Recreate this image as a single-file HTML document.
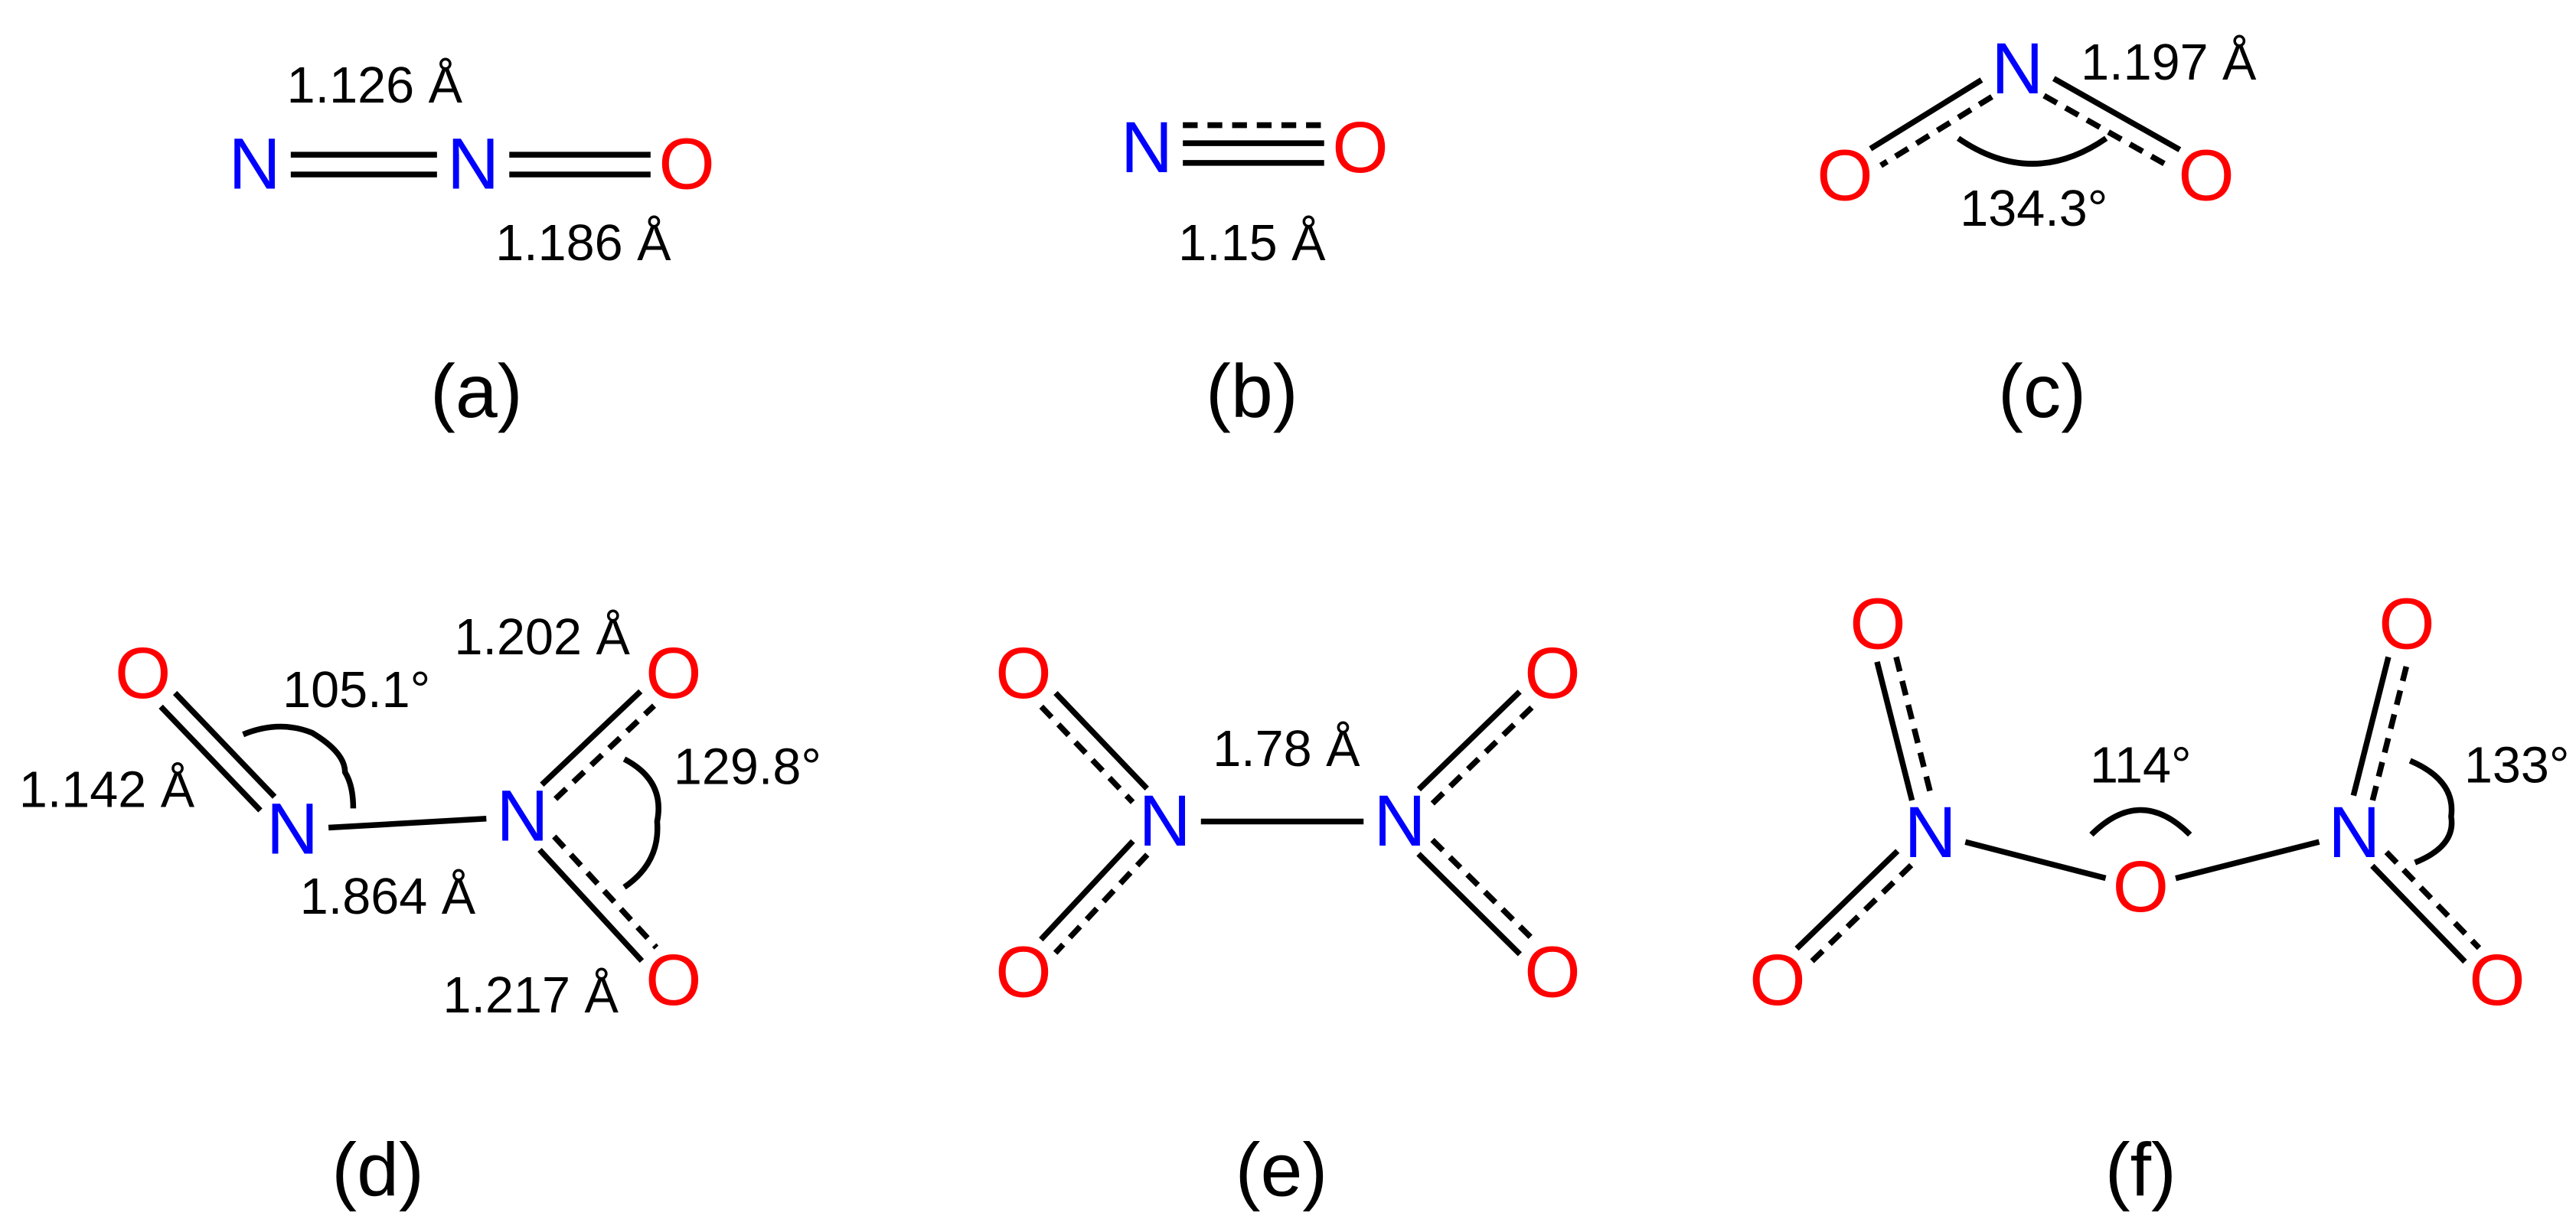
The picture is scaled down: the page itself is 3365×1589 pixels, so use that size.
<!DOCTYPE html>
<html><head><meta charset="utf-8"><style>
html,body{margin:0;padding:0;background:#fff}
svg{display:block}
text{font-family:"Liberation Sans",sans-serif}
.atN{fill:#0000ff;font-size:44px}
.atO{fill:#ff0000;font-size:44px}
.lb{fill:#000;font-size:31px}
.cap{fill:#000;font-size:46px}
</style></head><body>
<svg id="s" width="3365" height="1589" viewBox="0 0 1568 740" xmlns="http://www.w3.org/2000/svg">
<g id="bonds" stroke="#000" stroke-width="3.5" fill="none"></g>
<g id="atoms" text-anchor="middle" dominant-baseline="central"></g>
<g text-anchor="middle" dominant-baseline="central">
<text class="lb" x="228" y="52">1.126 Å</text>
<text class="lb" x="355" y="148">1.186 Å</text>
<text class="cap" x="290" y="238">(a)</text>
<text class="lb" x="762" y="148">1.15 Å</text>
<text class="cap" x="762" y="238">(b)</text>
<text class="lb" x="1320" y="38">1.197 Å</text>
<text class="lb" x="1238" y="127">134.3°</text>
<text class="cap" x="1243" y="238">(c)</text>
<text class="lb" x="217" y="420">105.1°</text>
<text class="lb" x="330" y="388">1.202 Å</text>
<text class="lb" x="65" y="481">1.142 Å</text>
<text class="lb" x="455" y="467">129.8°</text>
<text class="lb" x="236" y="546">1.864 Å</text>
<text class="lb" x="323" y="606">1.217 Å</text>
<text class="cap" x="230" y="712">(d)</text>
<text class="lb" x="783" y="456">1.78 Å</text>
<text class="cap" x="780" y="712">(e)</text>
<text class="lb" x="1303" y="466">114°</text>
<text class="lb" x="1532" y="466">133°</text>
<text class="cap" x="1303" y="712">(f)</text>
</g>
<g stroke="#000" stroke-width="3.5" fill="none">
<path d="M1192,84 Q1237,115 1282,84"/>
<path d="M148,447 Q170,438 190,446 Q210,458 210,470 Q215,478 215,492"/>
<path d="M380,462 Q405,475 400,500 Q402,525 380,540"/>
<path d="M1273,508 Q1303,478 1333,508"/>
<path d="M1467,463 Q1495,475 1492,497 Q1495,515 1470,525"/>
</g>
</svg>
<script>
const NS="http://www.w3.org/2000/svg";
const atoms=[
["N",155,100],["N",288,100],["O",418,100],
["N",698,90],["O",828,90],
["N",1228,42],["O",1123,107],["O",1343,107],
["O",87,410],["N",178,505],["N",318,497],["O",410,410],["O",410,597],
["O",623,410],["N",709,500],["N",852,500],["O",945,410],["O",623,592],["O",945,592],
["O",1143,380],["N",1175,507],["O",1303,540],["N",1433,507],["O",1465,380],["O",1082,597],["O",1520,597]
];
const ag=document.getElementById('atoms');
atoms.forEach(a=>{const t=document.createElementNS(NS,'text');t.setAttribute('x',a[1]);t.setAttribute('y',a[2]);t.setAttribute('class',a[0]==='N'?'atN':'atO');t.textContent=a[0];


ag.appendChild(t);});
const bg=document.getElementById('bonds');
const bonds=[
[0,1,[[-6,0],[6,0]]],[1,2,[[-6,0],[6,0]]],
[3,4,[[-14,1],[-3,0],[9,0]]],
[5,6,[[-6,1],[6,0]]],[5,7,[[6,1],[-6,0]]],
[8,9,[[-6,0],[6,0]]],[9,10,[[0,0]]],[10,11,[[-6,0],[6,1]]],[10,12,[[-6,1],[6,0]]],
[13,14,[[-6,0],[6,1]]],[14,15,[[0,0]]],[15,16,[[-6,0],[6,1]]],[14,17,[[-6,1],[6,0]]],[15,18,[[-6,1],[6,0]]],
[19,20,[[-6,1],[6,0]]],[20,21,[[0,0]]],[21,22,[[0,0]]],[22,23,[[-6,0],[6,1]]],[20,24,[[-6,1],[6,0]]],[22,25,[[-6,1],[6,0]]]
];
bonds.forEach(b=>{const A=atoms[b[0]],B=atoms[b[1]];let dx=B[1]-A[1],dy=B[2]-A[2];const L=Math.hypot(dx,dy);const ux=dx/L,uy=dy/L,nx=-uy,ny=ux;const t=22;
b[2].forEach(l=>{const ln=document.createElementNS(NS,'line');const o=l[0];
ln.setAttribute('x1',A[1]+ux*t+nx*o);ln.setAttribute('y1',A[2]+uy*t+ny*o);ln.setAttribute('x2',B[1]-ux*t+nx*o);ln.setAttribute('y2',B[2]-uy*t+ny*o);
if(l[1])ln.setAttribute('stroke-dasharray','9 6');


bg.appendChild(ln);});});
</script>
</body></html>
